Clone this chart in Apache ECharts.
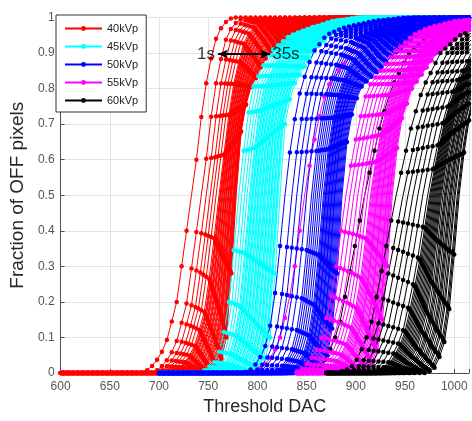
<!DOCTYPE html>
<html><head><meta charset="utf-8">
<script src="https://cdn.jsdelivr.net/npm/echarts/dist/echarts.min.js"></script>
<style>html,body{margin:0;padding:0;background:#fff}#c{width:472px;height:421px}</style>
</head><body><div id="c"></div><script>
// ---------- data ----------
const groupNames  = ['40kVp', '45kVp', '50kVp', '55kVp', '60kVp'];
const groupColors = ['#ff0000', '#00ffff', '#0000ff', '#ff00ff', '#000000'];
const xTicks = [600, 650, 700, 750, 800, 850, 900, 950, 1000];
const yTicks = [0, 0.1, 0.2, 0.3, 0.4, 0.5, 0.6, 0.7, 0.8, 0.9, 1];

// Curve shapes: fraction of OFF pixels at DAC offsets -60, -55, -50, ... (step 5) from the curve's 50% point.
// "first" = shortest exposure (1s) curve, "last" = longest exposure (35s) curve of each kVp set.
// After the last listed value the curve stays at 1.
const shapeStartOffset = -60;
const shapeStep = 5;
const red_firstShape = [0, 0, 0, 0.008, 0.02, 0.037, 0.06, 0.093, 0.145, 0.2, 0.3, 0.4, 0.5, 0.6, 0.72, 0.815,
  0.885, 0.94, 0.97, 0.987, 0.997, 1];
const red_lastShape = [0, 0, 0, 0, 0, 0, 0, 0.002, 0.01, 0.04, 0.1, 0.28, 0.5, 0.68, 0.755, 0.805, 0.83, 0.86,
  0.885, 0.905, 0.915, 0.925, 0.93, 0.94, 0.948, 0.953, 0.957, 0.961, 0.966, 0.97, 0.975, 0.98, 0.985, 0.99,
  0.993, 0.996, 0.999, 1];
const cyan_firstShape = [0, 0, 0, 0, 0.002, 0.008, 0.018, 0.03, 0.06, 0.115, 0.2, 0.345, 0.5, 0.625, 0.733, 0.806,
  0.835, 0.865, 0.895, 0.91, 0.922, 0.933, 0.945, 0.952, 0.958, 0.963, 0.968, 0.973, 0.977, 0.981, 0.986, 0.99,
  0.992, 0.994, 0.996, 0.998, 1];
const cyan_lastShape = [0, 0, 0, 0, 0, 0, 0, 0.002, 0.01, 0.04, 0.1, 0.28, 0.5, 0.7, 0.77, 0.815, 0.838, 0.862,
  0.885, 0.906, 0.921, 0.935, 0.95, 0.958, 0.965, 0.971, 0.975, 0.977, 0.98, 0.983, 0.986, 0.989, 0.991, 0.993,
  0.994, 0.996, 0.997, 0.999, 1];
const blue_firstShape = [0, 0, 0, 0, 0.003, 0.01, 0.024, 0.045, 0.076, 0.133, 0.225, 0.357, 0.5, 0.62, 0.714, 0.786,
  0.833, 0.875, 0.907, 0.925, 0.943, 0.954, 0.96, 0.966, 0.971, 0.975, 0.978, 0.981, 0.984, 0.987, 0.99, 0.992,
  0.993, 0.995, 0.996, 0.998, 0.999, 1];
const blue_lastShape = [0, 0, 0, 0, 0, 0, 0, 0.004, 0.015, 0.05, 0.125, 0.28, 0.5, 0.65, 0.727, 0.773, 0.806, 0.82,
  0.833, 0.847, 0.861, 0.875, 0.889, 0.902, 0.914, 0.925, 0.936, 0.948, 0.956, 0.964, 0.97, 0.973, 0.976, 0.979,
  0.982, 0.985, 0.988, 0.99, 0.992, 0.994, 0.995, 0.997, 0.999, 1];
const magenta_firstShape = [0, 0, 0.004, 0.012, 0.025, 0.043, 0.066, 0.1, 0.155, 0.217, 0.3, 0.4, 0.5, 0.583, 0.657,
  0.722, 0.778, 0.812, 0.831, 0.85, 0.869, 0.888, 0.905, 0.918, 0.93, 0.943, 0.953, 0.96, 0.967, 0.972, 0.976,
  0.979, 0.983, 0.986, 0.99, 0.991, 0.993, 0.994, 0.995, 0.996, 0.998, 0.999, 1];
const magenta_lastShape = [0, 0, 0, 0, 0, 0, 0, 0.007, 0.025, 0.06, 0.15, 0.3, 0.5, 0.633, 0.717, 0.758, 0.8, 0.82,
  0.84, 0.86, 0.88, 0.9, 0.911, 0.922, 0.933, 0.943, 0.952, 0.958, 0.964, 0.97, 0.973, 0.977, 0.98, 0.983, 0.987,
  0.99, 0.991, 0.993, 0.994, 0.996, 0.997, 0.999, 1];
const black_firstShape = [0, 0.005, 0.01, 0.02, 0.037, 0.067, 0.1, 0.144, 0.214, 0.286, 0.357, 0.429, 0.5, 0.563,
  0.625, 0.688, 0.736, 0.782, 0.817, 0.844, 0.872, 0.9, 0.913, 0.925, 0.938, 0.95, 0.956, 0.962, 0.968, 0.972,
  0.976, 0.979, 0.983, 0.986, 0.99, 0.991, 0.993, 0.994, 0.995, 0.996, 0.998, 0.999, 1];
const black_lastShape = [0, 0, 0, 0, 0, 0, 0.005, 0.015, 0.045, 0.087, 0.18, 0.333, 0.5, 0.62, 0.711, 0.767, 0.809,
  0.832, 0.855, 0.877, 0.9, 0.913, 0.925, 0.938, 0.95, 0.956, 0.961, 0.967, 0.971, 0.975, 0.978, 0.982, 0.986,
  0.99, 0.992, 0.993, 0.995, 0.996, 0.997, 0.999, 1];

// DAC at the 50% point of each curve (1s ... 35s)
const red_mid50 = [733, 743, 748, 752, 755, 758, 761, 762, 762.5, 763, 764, 764.5, 765, 766, 766.5, 767, 768, 768.5,
  769, 770, 770.5, 771, 772, 772.5, 773, 773.5, 774, 775, 775.5, 776, 776.5, 777, 777.5, 778, 778.5];
const cyan_mid50 = [781, 784, 787, 789.5, 792, 793, 794.5, 795, 796, 797.5, 798, 799, 800.5, 801, 802, 803.5, 804,
  805, 806.5, 807, 808, 809, 810.5, 811, 812, 813.5, 814, 815, 816.5, 817, 818, 819.5, 820, 821, 823];
const blue_mid50 = [828, 835, 840, 845, 850, 855, 857, 859, 861, 863, 865, 867, 868, 869, 869.5, 870, 871, 872,
  872.5, 873, 874, 875, 875.5, 876, 877, 878, 878.5, 879, 880, 881, 882, 883, 884, 885, 886];
const magenta_outlierMid50 = [848];
const magenta_mid50 = [890, 894, 898, 902, 906, 909, 912, 915, 916, 917, 918, 919, 920, 921, 921.5, 922, 923, 924,
  925, 926, 926.5, 927, 928, 929, 930, 931, 931.5, 932, 933, 934, 934.5, 935, 936, 937];
const black_outlierMid50 = [909];
const black_mid50 = [941, 948, 953, 958, 963, 968, 973, 975, 976, 977, 978, 979, 980, 981, 982, 983, 984, 985,
  986, 987, 988.5, 990, 991, 992, 993.5, 995, 996, 997, 998.5, 1000, 1001, 1003, 1004, 1005];

// first / last DAC value sampled in each data set
const dataStart = { red: 600, cyan: 700, blue: 700, magenta: 840, magentaOutlier: 790, black: 870, blackOutlier: 850 };
const dacEnd = 1020;

// annotation
const annotationTexts = ['1s', '35s'];
const annotationX = [760, 813];
const annotationY = 0.897;

// ---------- build series ----------
function shapeValue(shape, k) {
  if (k < 0) return 0;
  if (k >= shape.length) return 1;
  return shape[k];
}
function buildCurve(mid, shapeA, shapeB, w, start) {
  const pts = [];
  const kMin = Math.ceil((start - mid - shapeStartOffset) / shapeStep);
  const kMax = Math.floor((dacEnd - mid - shapeStartOffset) / shapeStep);
  for (let k = kMin; k <= kMax; k++) {
    const a = shapeValue(shapeA, k), b = shapeValue(shapeB, k);
    pts.push([mid + shapeStartOffset + k * shapeStep, a + (b - a) * w]);
  }
  return pts;
}
// the shared 50% sample would line all markers up on one row; its marker is left out
const markerSize = (val) => (Math.abs(val[1] - 0.5) < 1e-9 ? 0 : 4.5);
function groupSeries(gi, mids, shapeA, shapeB, start, fixedW) {
  const n = mids.length;
  return mids.map((m, i) => ({
    type: 'line', name: groupNames[gi], silent: true, animation: false,
    symbol: 'circle', symbolSize: markerSize, showSymbol: true,
    lineStyle: { width: 1, color: groupColors[gi] },
    itemStyle: { color: groupColors[gi] },
    emphasis: { disabled: true },
    data: buildCurve(m, shapeA, shapeB, fixedW !== undefined ? fixedW : (n > 1 ? i / (n - 1) : 0), start)
  }));
}

const series = [].concat(
  groupSeries(0, red_mid50, red_firstShape, red_lastShape, dataStart.red),
  groupSeries(1, cyan_mid50, cyan_firstShape, cyan_lastShape, dataStart.cyan),
  groupSeries(3, magenta_outlierMid50, magenta_firstShape, magenta_lastShape, dataStart.magentaOutlier, 0),
  groupSeries(2, blue_mid50, blue_firstShape, blue_lastShape, dataStart.blue),
  groupSeries(4, black_outlierMid50, black_firstShape, black_lastShape, dataStart.blackOutlier, 0),
  groupSeries(3, magenta_mid50, magenta_firstShape, magenta_lastShape, dataStart.magenta),
  groupSeries(4, black_mid50, black_firstShape, black_lastShape, dataStart.black)
);

series.push({
  type: 'scatter', name: 'annotation', silent: true, animation: false,
  symbolSize: 0,
  data: annotationTexts.map((t, i) => ({
    value: [annotationX[i], annotationY],
    label: { show: true, formatter: t, position: i === 0 ? 'left' : 'right', distance: i === 0 ? 3 : 2,
      color: '#000', fontSize: 17, fontFamily: 'Liberation Sans, Arial, sans-serif' }
  })),
  markLine: {
    silent: true, animation: false,
    symbol: ['arrow', 'arrow'], symbolSize: [7, 10],
    lineStyle: { color: '#000', width: 2, type: 'solid' },
    label: { show: false },
    data: [[{ coord: [annotationX[0], annotationY] }, { coord: [annotationX[1], annotationY] }]]
  },
  z: 10
});

const chart = echarts.init(document.getElementById('c'), null, { renderer: 'canvas' });
chart.setOption({
  animation: false,
  backgroundColor: '#ffffff',
  textStyle: { fontFamily: 'Liberation Sans, Arial, sans-serif' },
  grid: { left: 57, right: 0, top: 17.5, bottom: 40, containLabel: false },
  legend: {
    data: groupNames, orient: 'vertical', left: 56, top: 15,
    backgroundColor: '#ffffff', borderColor: '#333', borderWidth: 1,
    padding: [7, 8, 5, 8], itemWidth: 37, itemHeight: 6, itemGap: 5,
    textStyle: { fontSize: 11, color: '#222', lineHeight: 13 },
    selectedMode: false
  },
  xAxis: {
    type: 'value', min: 600, max: 1015, interval: 50,
    name: 'Threshold DAC', nameLocation: 'middle', nameGap: 25,
    nameTextStyle: { fontSize: 18, color: '#262626' },
    axisLine: { show: true, lineStyle: { color: '#4d4d4d', width: 1 } },
    axisTick: { show: true, inside: true, length: 4, lineStyle: { color: '#4d4d4d' } },
    axisLabel: { fontSize: 12, color: '#555', margin: 8,
      formatter: v => (xTicks.indexOf(v) >= 0 ? String(v) : '') },
    splitLine: { show: true, lineStyle: { color: '#e3e3e3', width: 1 } }
  },
  yAxis: {
    type: 'value', min: 0, max: 1, interval: 0.1,
    name: 'Fraction of OFF pixels', nameLocation: 'middle', nameGap: 30,
    nameTextStyle: { fontSize: 19, color: '#262626' },
    axisLine: { show: true, lineStyle: { color: '#4d4d4d', width: 1 } },
    axisTick: { show: true, inside: true, length: 4, lineStyle: { color: '#4d4d4d' } },
    axisLabel: { fontSize: 12, color: '#555', margin: 6,
      formatter: v => { const t = yTicks.find(y => Math.abs(y - v) < 1e-6); return t === undefined ? '' : String(t); } },
    splitLine: { show: true, lineStyle: { color: '#e3e3e3', width: 1 } }
  },
  series: series
});
</script></body></html>
